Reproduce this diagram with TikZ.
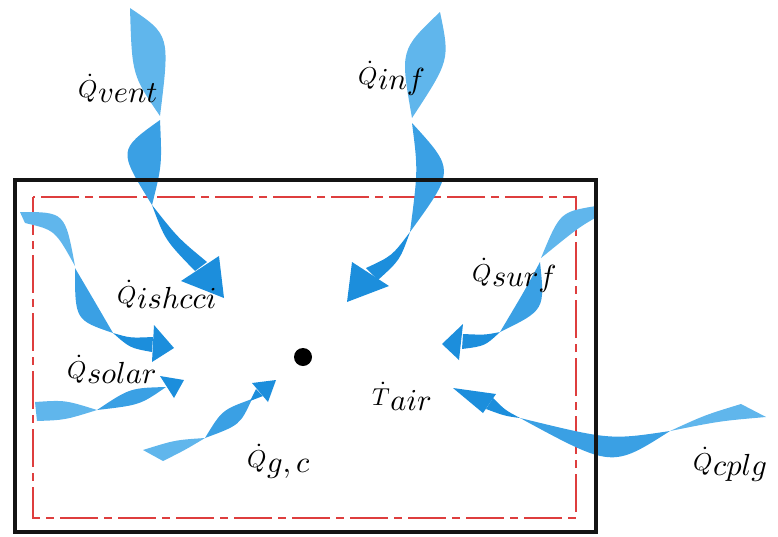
\documentclass[tikz,border=0pt]{standalone}
\usepackage{amsmath}
\usepackage{graphicx}
\definecolor{blueL}{RGB}{96,182,236}
\definecolor{blueM}{RGB}{58,160,228}
\definecolor{blueD}{RGB}{28,142,220}
\definecolor{boxred}{RGB}{222,62,62}
\definecolor{boxblack}{RGB}{20,20,20}
\newcommand\qlab[2]{\scalebox{2.45}{$\dot{#1}$}\kern0.5pt\raisebox{-5pt}{\scalebox{3.05}{$#2$}}}
\tikzset{
  seglight/.style={fill=blueL},
  segmid/.style={fill=blueM},
  segdark/.style={fill=blueD},
  lab/.style={inner sep=0pt, anchor=base west},
  redbox/.style={draw=boxred, line width=2.5pt, dash pattern=on 38pt off 6pt on 8pt off 6pt},
  blackbox/.style={draw=boxblack, line width=4pt},
}
\begin{document}
\begin{tikzpicture}[x=1pt,y=-1pt]
\useasboundingbox (0,0) rectangle (778,536);
% enclosures
\draw[redbox] (33,197) rectangle (576,518);
% vent
\fill[seglight] (130,8) .. controls (170,35) .. (160,116) .. controls (132,75) .. (130,8) -- cycle;
\fill[segmid] (160,120) .. controls (118,150) .. (152,205) .. controls (162,165) .. (160,120) -- cycle;
\fill[segdark] (152,205) .. controls (165,240) .. (195,271) -- (207,262) .. controls (178,238) .. (152,205) -- cycle;
\fill[segdark] (181,281) -- (224,298) -- (219,256) -- cycle;
% inf
\fill[seglight] (440,12) .. controls (450,60) .. (412,118) .. controls (400,50) .. (440,12) -- cycle;
\fill[segmid] (412,123) .. controls (455,170) .. (410,232) .. controls (418,170) .. (412,123) -- cycle;
\fill[segdark] (410,232) .. controls (392,256) .. (366,268) -- (378,280) .. controls (400,260) .. (410,232) -- cycle;
\fill[segdark] (352,262) -- (347,302) -- (389,286) -- cycle;
% surf
\fill[seglight] (596,206) .. controls (560,212) .. (541,258) .. controls (578,228) .. (595,218) -- cycle;
\fill[segmid] (540,262) .. controls (545,310) .. (500,332) .. controls (525,290) .. (540,262) -- cycle;
\fill[segdark] (500,332) .. controls (485,335) .. (463,334) -- (462,349) .. controls (485,346) .. (500,332) -- cycle;
\fill[segdark] (463,324) -- (442,344) -- (459,360) -- cycle;
% ishcci
\fill[seglight] (20,212) .. controls (65,212) .. (75,266) .. controls (55,230) .. (25,223) -- cycle;
\fill[segmid] (75,268) .. controls (75,320) .. (113,333) .. controls (95,302) .. (75,268) -- cycle;
\fill[segdark] (113,333) .. controls (130,338) .. (153,337) -- (152,352) .. controls (130,348) .. (113,333) -- cycle;
\fill[segdark] (154,325) -- (174,348) -- (152,362) -- cycle;
% solar
\fill[seglight] (35,402) .. controls (65,400) .. (97,410) .. controls (65,420) .. (37,421) -- cycle;
\fill[segmid] (97,410) .. controls (140,405) .. (166,387) .. controls (130,388) .. (97,410) -- cycle;
\fill[segdark] (160,376) -- (184,380) -- (174,398) -- cycle;
% g,c
\fill[seglight] (143,450) .. controls (175,440) .. (205,438) .. controls (185,450) .. (163,461) -- cycle;
\fill[segmid] (205,438) .. controls (222,410) .. (252,399) .. controls (240,425) .. (205,438) -- cycle;
\fill[segdark] (250,401) -- (256,389) -- (263,396) -- cycle;
\fill[segdark] (252,383) -- (276,380) -- (268,402) -- cycle;
% cplg
\fill[seglight] (766,417) -- (741,404) .. controls (705,415) .. (670,431) .. controls (720,421) .. (766,417) -- cycle;
\fill[segmid] (670,431) .. controls (612,468) .. (520,418) .. controls (610,440) .. (670,431) -- cycle;
\fill[segdark] (520,418) .. controls (505,410) .. (493,398) -- (486,409) .. controls (505,416) .. (520,418) -- cycle;
\fill[segdark] (453,388) -- (496,394) -- (483,413) -- cycle;
% outer wall
\draw[blackbox] (15,180) rectangle (596,532);
% air node
\fill[black] (303,357) circle (9);
% labels
\node[lab] (vent) at (78,97) {\qlab{Q}{vent}};
\node[lab] (inf) at (358,84) {\qlab{Q}{inf}};
\node[lab] (ishcci) at (117,303) {\qlab{Q}{ishcci}};
\node[lab] (solar) at (67,378) {\qlab{Q}{solar}};
\node[lab] (gc) at (247,467) {\qlab{Q}{g,c}};
\node[lab] (air) at (372,405) {\qlab{T}{air}};
\node[lab] (surf) at (472,281) {\qlab{Q}{surf}};
\node[lab] (cplg) at (693,470) {\qlab{Q}{cplg}};
\end{tikzpicture}
\end{document}
